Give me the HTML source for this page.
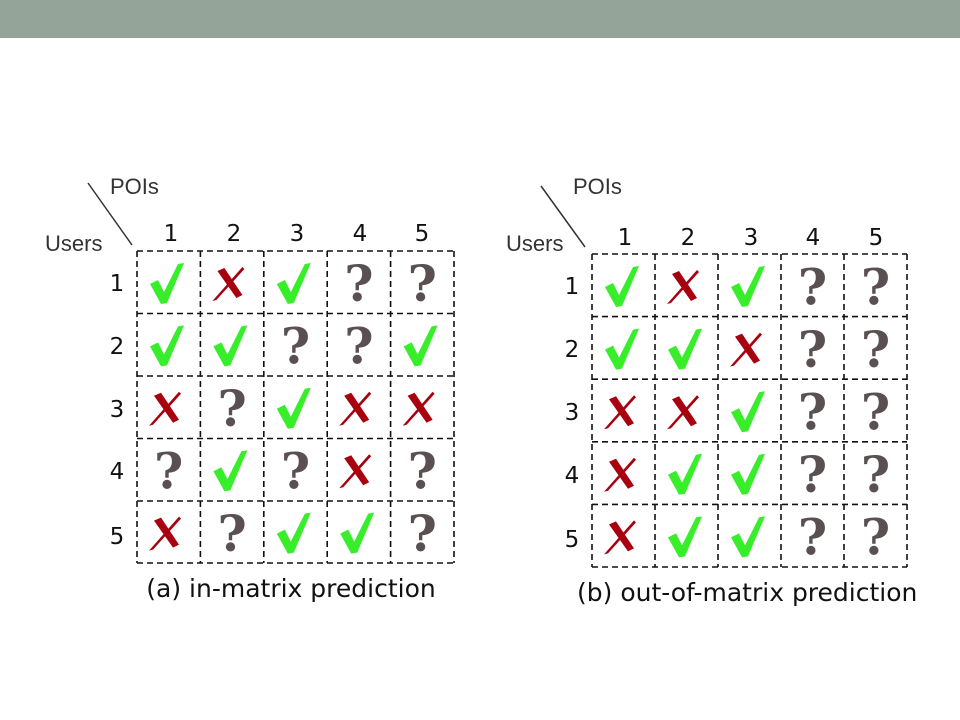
<!DOCTYPE html>
<html><head><meta charset="utf-8"><style>
body{margin:0;width:960px;height:720px;background:#fff;overflow:hidden}
</style></head><body>
<svg width="960" height="720" xmlns="http://www.w3.org/2000/svg" style="display:block">
<defs>
<symbol id="v" viewBox="0 0 63 63" overflow="visible"><path d="M13,33 L21,29 L27,41 L41,13 L47,12 L30,52 L24,53 Z" fill="#38ee2a"/></symbol>
<symbol id="x" viewBox="0 0 63 63" overflow="visible"><path d="M17,20 L24,17 L42,44 L36,47 Z" fill="#a8000f"/><path d="M12,50 L42,16 L44,18 L16,49 Z" fill="#a8000f"/></symbol>
</defs>
<rect x="0" y="0" width="960" height="38" fill="#95a499"/>
<g font-family="'Liberation Sans',sans-serif" font-size="22" fill="#333">
<text x="110" y="194">POIs</text><text x="45" y="251">Users</text>
<text x="573" y="194">POIs</text><text x="506" y="251">Users</text>
</g>
<line x1="88" y1="183" x2="132" y2="245" stroke="#333" stroke-width="1.5"/>
<line x1="541" y1="186" x2="585" y2="247" stroke="#333" stroke-width="1.5"/>
<g font-family="'DejaVu Sans',sans-serif" font-size="23" fill="#111" text-anchor="middle">
<text x="171" y="241">1</text><text x="234" y="241">2</text><text x="297" y="241">3</text><text x="360" y="241">4</text><text x="422" y="241">5</text>
<text x="117" y="291">1</text><text x="117" y="354">2</text><text x="117" y="417">3</text><text x="117" y="479">4</text><text x="117" y="544">5</text>
<text x="625" y="245">1</text><text x="688" y="245">2</text><text x="751" y="245">3</text><text x="813" y="245">4</text><text x="876" y="245">5</text>
<text x="572" y="294">1</text><text x="572" y="357">2</text><text x="572" y="420">3</text><text x="572" y="483">4</text><text x="572" y="547">5</text>
</g>
<text x="291" y="597" font-family="'DejaVu Sans',sans-serif" font-size="25" fill="#111" text-anchor="middle">(a) in-matrix prediction</text>
<text x="577" y="601" font-family="'DejaVu Sans',sans-serif" font-size="25" fill="#111">(b) out-of-matrix prediction</text>
<rect x="916" y="570" width="44" height="40" fill="#fff"/>
<g stroke="#111" stroke-width="1.6" stroke-dasharray="6,4" fill="none">
<path d="M137,251H454M137,313.5H454M137,376H454M137,438.5H454M137,501H454M137,563H454M137,251V563M200.4,251V563M263.8,251V563M327.2,251V563M390.6,251V563M454,251V563"/>
<path d="M592,254H907M592,316.6H907M592,379.2H907M592,441.8H907M592,504.4H907M592,567H907M592,254V567M655,254V567M718,254V567M781,254V567M844,254V567M907,254V567"/>
</g>
<g id="cells"></g>
<g font-family="'DejaVu Serif',serif" font-weight="bold" font-size="50" fill="#5a5052" text-anchor="middle" id="q"></g>
<script>
var A=["VXV??","VV??V","X?VXX","?V?X?","X?VV?"],B=["VXV??","VVX??","XXV??","XVV??","XVV??"];
var ns="http://www.w3.org/2000/svg",cg=document.getElementById("cells"),qg=document.getElementById("q");
function put(G,x0,y0,w,h){for(var r=0;r<5;r++)for(var c=0;c<5;c++){var ch=G[r][c],x=x0+c*w,y=y0+r*h;
if(ch=="?"){var t=document.createElementNS(ns,"text");t.setAttribute("x",x+w/2);t.setAttribute("y",y+h/2+19);t.textContent="?";qg.appendChild(t);}
else{var u=document.createElementNS(ns,"use");u.setAttribute("href","#"+(ch=="V"?"v":"x"));u.setAttribute("x",x);u.setAttribute("y",y);u.setAttribute("width",63);u.setAttribute("height",63);cg.appendChild(u);}}}
put(A,137,251,63.4,62.4);put(B,592,254,63,62.6);
</script>
</svg>
</body></html>
